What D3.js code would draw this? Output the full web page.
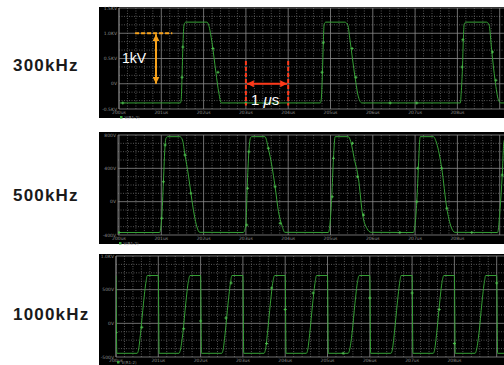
<!DOCTYPE html>
<html>
<head>
<meta charset="utf-8">
<script src="https://cdn.jsdelivr.net/npm/d3@7/dist/d3.min.js"></script>
<style>
  body { margin: 0; background: #fff; }
  svg { display: block; }
</style>
</head>
<body>
<svg id="chart" width="504" height="365"></svg>
<script>
// ---- data (time in us) ----
const freqLabels = ["300kHz", "500kHz", "1000kHz"];
const xTickLabels = ["200us", "201us", "202us", "203us", "204us", "205us", "206us", "207us", "208us", "209us"];

// 300kHz, volts in kV
const t300 = [0.02, 1.45, 1.47, 1.49, 1.51, 1.54, 1.58, 2.08, 2.12, 2.20, 2.29, 2.36, 2.42,
  4.76, 4.78, 4.81, 4.83, 4.85, 4.89, 5.34, 5.41, 5.46, 5.58, 5.66, 5.74,
  8.07, 8.09, 8.12, 8.14, 8.16, 8.20, 8.69, 8.75, 8.81, 8.89, 8.97, 9.03, 9.30];
const v300 = [-0.38, -0.38, -0.32, 0.13, 0.73, 1.18, 1.22, 1.22, 1.16, 0.81, 0.23, -0.18, -0.38,
  -0.38, -0.32, 0.23, 0.81, 1.18, 1.22, 1.22, 1.16, 0.87, 0.13, -0.26, -0.38,
  -0.38, -0.18, 0.33, 0.87, 1.18, 1.22, 1.22, 1.16, 0.67, 0.07, -0.32, -0.38, -0.38];
const m300t = [0.09, 1.49, 1.51, 2.22, 2.34, 3.0, 4.80, 4.83, 5.51, 5.60, 6.41, 7.04, 8.11, 8.13, 8.83, 8.91];
const m300v = [-0.38, 0.13, 0.73, 0.70, 0.23, -0.38, 0.23, 0.81, 0.70, 0.13, -0.38, -0.38, 0.33, 0.87, 0.63, 0.07];
const yTicks300 = [-0.5, 0, 0.5, 1.0, 1.5];
const yLabels300 = ["-0.5KV", "0V", "0.5KV", "1.0KV", "1.5KV"];

// 500kHz, volts in V
const t500 = [0.02, 0.96, 1.01, 1.05, 1.09, 1.11, 1.15, 1.44, 1.50, 1.56, 1.64, 1.70, 1.78, 1.84, 1.91,
  2.94, 3.00, 3.03, 3.07, 3.11, 3.14, 3.45, 3.53, 3.61, 3.69, 3.77, 3.85, 3.92,
  4.95, 5.03, 5.07, 5.11, 5.42, 5.48, 5.56, 5.66, 5.76, 5.86, 5.96,
  6.96, 7.04, 7.08, 7.12, 7.43, 7.51, 7.63, 7.75, 7.85, 7.94,
  8.95, 9.01, 9.06, 9.10, 9.15];
const v500 = [-370, -370, -200, 240, 680, 760, 780, 780, 740, 560, 320, 100, -160, -300, -368,
  -370, -280, 160, 600, 770, 780, 780, 640, 440, 180, -120, -280, -368,
  -370, 60, 520, 780, 780, 720, 520, 280, -160, -320, -368,
  -370, 0, 440, 780, 780, 700, 400, -80, -300, -368,
  -370, -80, 320, 720, 780];
const m500t = [0.0, 1.01, 1.05, 1.09, 1.56, 1.70, 3.02, 3.04, 3.07, 3.53, 3.69, 3.81,
  5.04, 5.07, 5.52, 5.64, 5.78, 6.64, 7.04, 7.06, 7.63, 7.75, 8.34, 9.06];
const m500v = [-370, -200, 240, 680, 560, 100, -280, 160, 600, 640, 180, -260,
  60, 520, 700, 300, -160, -370, 0, 400, 400, -80, -370, 320];
const yTicks500 = [-400, 0, 400, 800];
const yLabels500 = ["-400V", "0V", "400V", "800V"];

// 1000kHz, volts in V
const t1000 = [0.00, 0.02, 0.50, 0.53, 0.58, 0.65, 0.71, 0.74,
  1.00, 1.02, 1.49, 1.52, 1.58, 1.65, 1.71, 1.75,
  2.00, 2.02, 2.50, 2.53, 2.58, 2.65, 2.71, 2.74,
  3.00, 3.02, 3.50, 3.53, 3.58, 3.65, 3.71, 3.75,
  4.00, 4.02, 4.50, 4.53, 4.58, 4.65, 4.71, 4.74,
  5.00, 5.02, 5.49, 5.52, 5.58, 5.65, 5.71, 5.75,
  6.00, 6.02, 6.50, 6.53, 6.58, 6.65, 6.71, 6.74,
  7.00, 7.02, 7.50, 7.53, 7.58, 7.65, 7.71, 7.75,
  8.00, 8.02, 8.49, 8.52, 8.58, 8.65, 8.71, 8.74,
  9.00, 9.02, 9.50];
const v1000 = [710, -445, -445, -400, -150, 300, 620, 710,
  710, -445, -445, -400, -150, 300, 620, 710,
  710, -445, -445, -400, -150, 300, 620, 710,
  710, -445, -445, -400, -150, 300, 620, 710,
  710, -445, -445, -400, -150, 300, 620, 710,
  710, -445, -445, -400, -150, 300, 620, 710,
  710, -445, -445, -400, -150, 300, 620, 710,
  710, -445, -445, -400, -150, 300, 620, 710,
  710, -445, -445, -400, -150, 300, 620, 710,
  710, -445, -445];
const m1000t = [0.0, 0.61, 1.6, 2.0, 2.6, 2.72, 3.56, 3.68, 4.0, 4.66, 5.37, 6.0, 7.0, 7.64, 8.0, 9.0];
const m1000v = [-137, -60, -80, 34, 80, 600, -300, 525, 206, 450, -445, 378, 450, 206, -300, 600];
const yTicks1000 = [-500, 0, 500, 1000];
const yLabels1000 = ["-500V", "0V", "500V", "1.0KV"];

const legendText = "V(R1:2)";

// ---- layout ----
const svg = d3.select("#chart");
const W = 504;
const H = 365;
const usPx = 42.3;
const green = "#36a036";

const panels = [
  { name: freqLabels[0], t: t300, v: v300, mt: m300t, mv: m300v, yTicks: yTicks300, yLabels: yLabels300,
    sub: 3, top: 7, bottom: 118, plotTop: 8, plotBottom: 109, left: 119, origin: 119, labelY: 71 },
  { name: freqLabels[1], t: t500, v: v500, mt: m500t, mv: m500v, yTicks: yTicks500, yLabels: yLabels500,
    sub: 4, top: 132, bottom: 244, plotTop: 135, plotBottom: 235, left: 118, origin: 119, labelY: 201 },
  { name: freqLabels[2], t: t1000, v: v1000, mt: m1000t, mv: m1000v, yTicks: yTicks1000, yLabels: yLabels1000,
    sub: 4, top: 254, bottom: 366, plotTop: 256, plotBottom: 357, left: 116, origin: 116, labelY: 320 }
];

const defs = svg.append("defs");

panels.forEach((p, i) => {
  const g = svg.append("g");

  // frequency label
  svg.append("text")
    .attr("x", 13).attr("y", p.labelY)
    .attr("font-family", "Liberation Sans, Arial, sans-serif")
    .attr("font-size", 17).attr("font-weight", "bold")
    .attr("letter-spacing", 1.2)
    .attr("fill", "#1a1a1a")
    .text(p.name);

  g.append("rect")
    .attr("x", 99).attr("y", p.top)
    .attr("width", W - 99).attr("height", p.bottom - p.top)
    .attr("fill", "#000");

  const x = d3.scaleLinear().domain([0, 10]).range([p.origin, p.origin + 10 * usPx]);
  const y = d3.scaleLinear().domain(d3.extent(p.yTicks)).range([p.plotBottom, p.plotTop]);
  p.x = x; p.y = y;

  defs.append("clipPath").attr("id", "clip" + i)
    .append("rect")
    .attr("x", p.left).attr("y", p.plotTop - 2)
    .attr("width", W - p.left).attr("height", p.plotBottom - p.plotTop + 4);

  const grid = g.append("g");
  // minor vertical lines every 0.2us
  const minorX = d3.range(1, 50).map(k => k * 0.2).filter(t => Math.abs(t - Math.round(t)) > 1e-6);
  grid.selectAll(".mx").data(minorX).join("line")
    .attr("x1", d => x(d)).attr("x2", d => x(d))
    .attr("y1", p.plotTop).attr("y2", p.plotBottom)
    .attr("stroke", "#6a6a6a").attr("stroke-width", 0.8).attr("stroke-dasharray", "1,1.5");
  // minor horizontal lines
  const step = p.yTicks[1] - p.yTicks[0];
  const minorY = [];
  p.yTicks.slice(0, -1).forEach(v0 => {
    for (let k = 1; k < p.sub; k++) minorY.push(v0 + step * k / p.sub);
  });
  grid.selectAll(".my").data(minorY).join("line")
    .attr("x1", p.left).attr("x2", W)
    .attr("y1", d => y(d)).attr("y2", d => y(d))
    .attr("stroke", "#6a6a6a").attr("stroke-width", 0.8).attr("stroke-dasharray", "1,1.5");
  // major lines
  const majorX = d3.range(0, 10).filter(t => x(t) >= p.left - 0.5 && x(t) <= W);
  grid.selectAll(".Mx").data(majorX).join("line")
    .attr("x1", d => x(d)).attr("x2", d => x(d))
    .attr("y1", p.plotTop).attr("y2", p.plotBottom)
    .attr("stroke", "#8a8a8a").attr("stroke-width", 0.8);
  grid.selectAll(".My").data(p.yTicks).join("line")
    .attr("x1", p.left).attr("x2", W)
    .attr("y1", d => y(d)).attr("y2", d => y(d))
    .attr("stroke", "#8a8a8a").attr("stroke-width", 0.8);
  grid.append("line")
    .attr("x1", p.left).attr("x2", p.left)
    .attr("y1", p.plotTop).attr("y2", p.plotBottom)
    .attr("stroke", "#8a8a8a").attr("stroke-width", 0.8);

  // tick labels
  g.selectAll(".yl").data(p.yTicks).join("text")
    .attr("x", p.left - 2).attr("y", d => y(d) + 1.5)
    .attr("text-anchor", "end")
    .attr("font-family", "DejaVu Sans, sans-serif").attr("font-size", 4.5)
    .attr("fill", "#8c8c8c")
    .text((d, j) => p.yLabels[j]);
  g.selectAll(".xl").data(majorX.filter(t => x(t) <= W - 8)).join("text")
    .attr("x", d => x(d)).attr("y", p.plotBottom + 5)
    .attr("text-anchor", "middle")
    .attr("font-family", "DejaVu Sans, sans-serif").attr("font-size", 4.5)
    .attr("fill", "#8c8c8c")
    .text(d => xTickLabels[d]);

  // legend
  const ly = Math.min(p.plotBottom + 9.5, H - 1.5);
  g.append("rect")
    .attr("x", p.left + 1).attr("y", ly - 2.5)
    .attr("width", 2.5).attr("height", 2.5).attr("fill", green);
  g.append("text")
    .attr("x", p.left + 5.5).attr("y", ly)
    .attr("font-family", "DejaVu Sans, sans-serif").attr("font-size", 4)
    .attr("fill", "#8c8c8c")
    .text(legendText);

  // trace
  const pts = p.t.map((t, j) => [t, p.v[j]]);
  const line = d3.line().x(d => x(d[0])).y(d => y(d[1])).curve(d3.curveMonotoneX);
  const traceG = g.append("g").attr("clip-path", `url(#clip${i})`);
  traceG.append("path")
    .attr("d", line(pts))
    .attr("fill", "none").attr("stroke", green).attr("stroke-width", 1);
  const sym = d3.symbol().type(d3.symbolCross).size(5);
  traceG.selectAll(".mk").data(p.mt.map((t, j) => [t, p.mv[j]])).join("path")
    .attr("d", sym)
    .attr("transform", d => `translate(${x(d[0])},${y(d[1])})`)
    .attr("fill", "#4cb84c");
});

// ---- annotations on the 300kHz panel ----
const orange = "#f7a21b";
const red = "#ff3a1a";
[["arrO", orange], ["arrR", red]].forEach(([id, c]) => {
  defs.append("marker").attr("id", id)
    .attr("viewBox", "0 0 10 10").attr("refX", 10).attr("refY", 5)
    .attr("markerUnits", "userSpaceOnUse")
    .attr("markerWidth", 7).attr("markerHeight", 7)
    .attr("orient", "auto-start-reverse")
    .append("path").attr("d", "M0,0L10,5L0,10z").attr("fill", c);
});

const p1 = panels[0];
const kvSpan = [0, 1.0];       // kV arrow from / to
const kvLineT = [0.38, 1.26];  // dashed reference line extent (us)
const kvArrowT = 0.875;
const usSpan = [3, 4];         // 1 us marker
const usLineV = [0.45, -0.43];

const ann = svg.append("g");
ann.append("line")
  .attr("x1", p1.x(kvLineT[0])).attr("x2", p1.x(kvLineT[1]))
  .attr("y1", p1.y(kvSpan[1])).attr("y2", p1.y(kvSpan[1]))
  .attr("stroke", orange).attr("stroke-width", 2).attr("stroke-dasharray", "4,2");
ann.append("line")
  .attr("x1", p1.x(kvArrowT)).attr("x2", p1.x(kvArrowT))
  .attr("y1", p1.y(kvSpan[1]) + 1).attr("y2", p1.y(kvSpan[0]))
  .attr("stroke", orange).attr("stroke-width", 2)
  .attr("marker-start", "url(#arrO)").attr("marker-end", "url(#arrO)");
ann.append("text")
  .attr("x", p1.x(0.07)).attr("y", p1.y(0.42))
  .attr("font-family", "Liberation Sans, Arial, sans-serif").attr("font-size", 14)
  .attr("fill", "#fff")
  .text("1kV");

usSpan.forEach(t => {
  ann.append("line")
    .attr("x1", p1.x(t)).attr("x2", p1.x(t))
    .attr("y1", p1.y(usLineV[0])).attr("y2", p1.y(usLineV[1]))
    .attr("stroke", red).attr("stroke-width", 2).attr("stroke-dasharray", "4,2");
});
ann.append("line")
  .attr("x1", p1.x(usSpan[0]) + 1).attr("x2", p1.x(usSpan[1]) - 1)
  .attr("y1", p1.y(0)).attr("y2", p1.y(0))
  .attr("stroke", red).attr("stroke-width", 2)
  .attr("marker-start", "url(#arrR)").attr("marker-end", "url(#arrR)");
const usText = ann.append("text")
  .attr("x", p1.x(3.12)).attr("y", p1.y(-0.42))
  .attr("font-family", "Liberation Sans, Arial, sans-serif").attr("font-size", 15)
  .attr("fill", "#fff");
usText.append("tspan").text("1 ");
usText.append("tspan").attr("font-style", "italic").text("μ");
usText.append("tspan").text("s");
</script>
</body>
</html>
